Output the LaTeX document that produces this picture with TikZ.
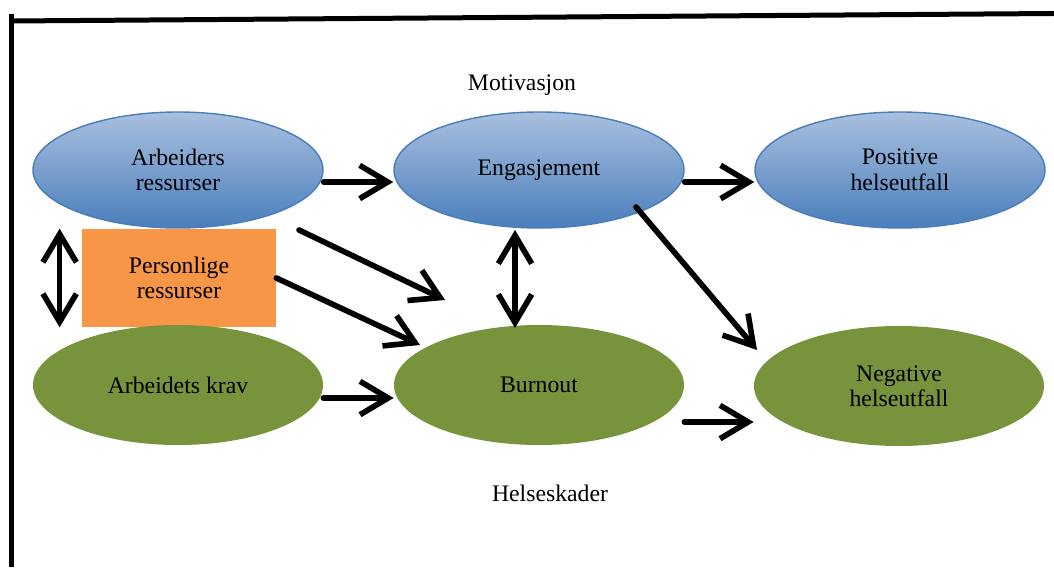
\documentclass[tikz,border=0pt]{standalone}
\usepackage{fontspec}
\setmainfont{Liberation Serif}
\usetikzlibrary{arrows.meta,shapes.geometric,calc}
\definecolor{jblue}{HTML}{4A7EBB}
\definecolor{jbluelt}{HTML}{A9C0DF}
\definecolor{jgreen}{HTML}{77933C}
\definecolor{jorange}{HTML}{F79646}
\newcommand{\jtext}{\fontsize{13.5}{14.5}\selectfont}
\tikzset{
  blueell/.style={ellipse,draw=jblue,line width=0.8pt,top color=jbluelt,bottom color=jblue,minimum width=5.8cm,minimum height=2.32cm,align=center,font=\jtext,inner sep=0pt},
  greenell/.style={ellipse,fill=jgreen,minimum width=5.8cm,minimum height=2.4cm,align=center,font=\jtext,inner sep=0pt},
  persbox/.style={rectangle,fill=jorange,minimum width=3.88cm,minimum height=1.96cm,align=center,font=\jtext},
  arr/.style={-{Straight Barb[length=16pt,width=19pt]},line width=3.2pt,line cap=round},
  darr/.style={{Straight Barb[length=16pt,width=19pt]}-{Straight Barb[length=16pt,width=19pt]},line width=3.2pt,line cap=round},
  lbl/.style={font=\jtext},
}

\begin{document}
\begin{tikzpicture}
  \useasboundingbox (0,0) rectangle (21.08,11.34);
  % frame
  \draw[line width=0.1cm] (0.22,10.92) -- (21.08,11.07);
  \draw[line width=0.1cm] (0.22,11.06) -- (0.22,0);
  % nodes
  \node[blueell] (ar) at (3.56,7.94) {Arbeiders\\ressurser};
  \node[blueell] (en) at (10.78,7.94) {Engasjement};
  \node[blueell] (po) at (18.0,7.94) {Positive\\helseutfall};
  \node[persbox] (pe) at (3.58,5.78) {Personlige\\ressurser};
  \node[greenell] (kr) at (3.56,3.64) {Arbeidets krav};
  \node[greenell] (bu) at (10.78,3.64) {Burnout};
  \node[greenell] (ne) at (17.98,3.62) {Negative\\helseutfall};
  \node[lbl] (mo) at (10.44,9.64) {Motivasjon};
  \node[lbl] (he) at (11.0,1.48) {Helseskader};
  % arrows
  \draw[arr] ([yshift=-0.24cm]ar.east) -- ([yshift=-0.24cm]en.west);
  \draw[arr] ([yshift=-0.24cm]en.east) -- ([yshift=-0.24cm]po.west);
  \draw[arr] ([yshift=-0.26cm]kr.east) -- ([yshift=-0.26cm]bu.west);
  \draw[arr] ([yshift=-0.74cm]bu.east) -- ([yshift=-0.72cm]ne.west);
  \draw[arr] ($(ar.center)+(2.42,-1.2)$) -- ($(bu.center)+(-1.88,1.7)$);
  \draw[arr] (pe.east) -- ($(bu.center)+(-2.38,0.8)$);
  \draw[arr] ($(en.center)+(1.94,-0.74)$) -- ($(ne.center)+(-2.84,0.72)$);
  \draw[darr] ($(en.center)+(-0.48,-1.2)$) -- ($(bu.center)+(-0.48,1.14)$);
  \draw[darr] ([xshift=-0.44cm]pe.north west) -- ([xshift=-0.44cm]pe.south west);
\end{tikzpicture}
\end{document}
